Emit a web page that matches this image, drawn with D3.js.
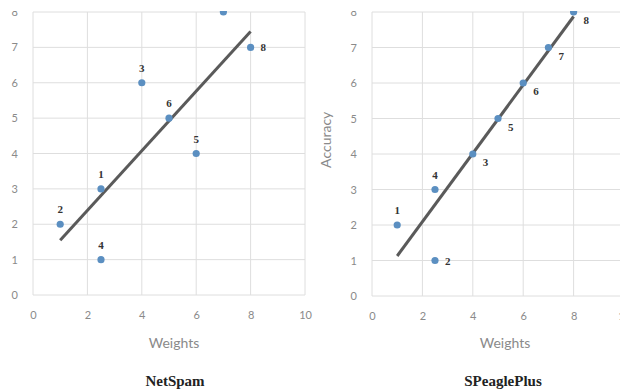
<!DOCTYPE html>
<html>
<head>
<meta charset="utf-8">
<script src="https://cdn.jsdelivr.net/npm/d3@7"></script>
<style>
  body { margin: 0; background: #fff; }
  .tick text { font-family: Lato, "Open Sans", sans-serif; font-size: 11px; fill: #8a8a8a; }
  .axis-title { font-family: Lato, "Open Sans", sans-serif; font-size: 14px; fill: #8a8a8a; }
  .chart-name { font-family: "Liberation Serif", serif; font-size: 15px; fill: #222; font-weight: bold; }
  .pt-label { font-family: "Liberation Serif", serif; font-size: 11px; fill: #333; font-weight: bold; }
</style>
</head>
<body>
<svg width="620" height="392"></svg>
<script>
// NetSpam
const netIds = ["1", "2", "3", "4", "5", "6", "7", "8"];
const netWeights = [2.5, 1, 4, 2.5, 6, 5, 7, 8];
const netAccuracy = [3, 2, 6, 1, 4, 5, 8, 7];

// SPeaglePlus
const spIds = ["1", "2", "3", "4", "5", "6", "7", "8"];
const spWeights = [1, 2.5, 4, 2.5, 5, 6, 7, 8];
const spAccuracy = [2, 1, 4, 3, 5, 6, 7, 8];

const xTicks = [0, 2, 4, 6, 8, 10];
const yTicks = [0, 1, 2, 3, 4, 5, 6, 7, 8];

const svg = d3.select("svg");

// the source picture is cropped a little above the top gridline
svg.append("clipPath").attr("id", "crop")
  .append("rect").attr("x", 0).attr("y", 11).attr("width", 620).attr("height", 381);
const root = svg.append("g").attr("clip-path", "url(#crop)");

function fit(xs, ys) {
  const mx = d3.mean(xs), my = d3.mean(ys);
  let sxy = 0, sxx = 0;
  xs.forEach((x, i) => { sxy += (x - mx) * (ys[i] - my); sxx += (x - mx) * (x - mx); });
  const b = sxy / sxx;
  return x => my + b * (x - mx);
}

function drawPanel(opts) {
  const x = d3.scaleLinear().domain([0, 10]).range([opts.left, opts.right]);
  const y = d3.scaleLinear().domain([0, 8]).range([opts.bottom, opts.top]);
  const g = root.append("g");

  // gridlines
  g.append("g").selectAll("line").data(yTicks).enter().append("line")
    .attr("x1", x(0)).attr("x2", x(10))
    .attr("y1", d => y(d)).attr("y2", d => y(d))
    .attr("stroke", "#dedede").attr("stroke-width", 1);
  g.append("g").selectAll("line").data(xTicks).enter().append("line")
    .attr("x1", d => x(d)).attr("x2", d => x(d))
    .attr("y1", y(0)).attr("y2", y(8))
    .attr("stroke", "#dedede").attr("stroke-width", 1);

  const xAxis = g.append("g")
    .attr("transform", "translate(0," + y(0) + ")")
    .call(d3.axisBottom(x).tickValues(xTicks).tickSize(0).tickPadding(16));
  xAxis.select(".domain").remove();

  const yAxis = g.append("g")
    .attr("transform", "translate(" + x(0) + ",0)")
    .call(d3.axisLeft(y).tickValues(yTicks).tickSize(0).tickPadding(15));
  yAxis.select(".domain").remove();

  g.append("text").attr("class", "axis-title")
    .attr("x", opts.titleX).attr("y", 348)
    .attr("text-anchor", "middle").text("Weights");

  if (opts.yTitle) {
    g.append("text").attr("class", "axis-title")
      .attr("transform", "translate(" + (x(0) - 41) + "," + y(4.4) + ") rotate(-90)")
      .attr("text-anchor", "middle").text(opts.yTitle);
  }

  g.append("text").attr("class", "chart-name")
    .attr("x", opts.nameX).attr("y", 386)
    .attr("text-anchor", "middle").text(opts.name);

  // trend line
  const f = fit(opts.xs, opts.ys);
  const x0 = d3.min(opts.xs), x1 = d3.max(opts.xs);
  g.append("line")
    .attr("x1", x(x0)).attr("y1", y(f(x0)))
    .attr("x2", x(x1)).attr("y2", y(f(x1)))
    .attr("stroke", "#5a5a5a").attr("stroke-width", 3);

  const pts = opts.xs.map((d, i) => ({ x: d, y: opts.ys[i], id: opts.ids[i], pos: opts.labelPos[i] }));

  g.selectAll("circle").data(pts).enter().append("circle")
    .attr("cx", d => x(d.x)).attr("cy", d => y(d.y)).attr("r", 3.6)
    .attr("fill", "#5b8fc1");

  g.selectAll(".pt-label").data(pts).enter().append("text")
    .attr("class", "pt-label")
    .attr("x", d => x(d.x) + (d.pos === "above" ? 0 : 10))
    .attr("y", d => y(d.y) + (d.pos === "above" ? -11 : d.pos === "right" ? 4 : 12))
    .attr("text-anchor", d => d.pos === "above" ? "middle" : "start")
    .text(d => d.id);
}

drawPanel({
  left: 33, right: 305, top: 12, bottom: 295,
  xs: netWeights, ys: netAccuracy, ids: netIds,
  labelPos: ["above", "above", "above", "above", "above", "above", "above", "right"],
  name: "NetSpam", nameX: 175, titleX: 174
});

drawPanel({
  left: 372, right: 624, top: 12, bottom: 296,
  xs: spWeights, ys: spAccuracy, ids: spIds,
  labelPos: ["above", "right", "below", "above", "below", "below", "below", "below"],
  name: "SPeaglePlus", nameX: 503, titleX: 505, yTitle: "Accuracy"
});
</script>
</body>
</html>
